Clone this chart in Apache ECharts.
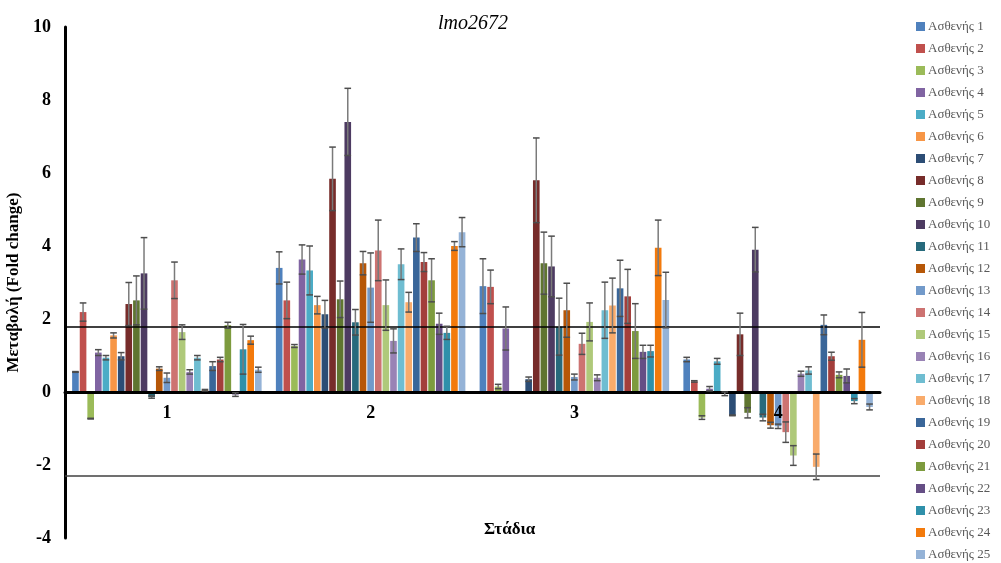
<!DOCTYPE html>
<html>
<head>
<meta charset="utf-8">
<script src="https://cdn.jsdelivr.net/npm/echarts@6/dist/echarts.min.js"></script>
<style>
  html, body { margin: 0; padding: 0; background: #ffffff; }
  #chart { width: 1001px; height: 563px; }
</style>
</head>
<body>
<div id="chart"></div>
<script>
// Stages on the x axis
const stages = ['1', '2', '3', '4'];

// Patient names (one bar series each)
const patients = [
  'Ασθενής 1', 'Ασθενής 2', 'Ασθενής 3', 'Ασθενής 4', 'Ασθενής 5',
  'Ασθενής 6', 'Ασθενής 7', 'Ασθενής 8', 'Ασθενής 9', 'Ασθενής 10',
  'Ασθενής 11', 'Ασθενής 12', 'Ασθενής 13', 'Ασθενής 14', 'Ασθενής 15',
  'Ασθενής 16', 'Ασθενής 17', 'Ασθενής 18', 'Ασθενής 19', 'Ασθενής 20',
  'Ασθενής 21', 'Ασθενής 22', 'Ασθενής 23', 'Ασθενής 24', 'Ασθενής 25'
];

// Fold change per patient, one value per stage (null = not measured)
const foldChange = [
  [0.55, 3.40, 2.90, 0.89],
  [2.19, 2.51, 2.88, 0.29],
  [-0.73, 1.26, 0.15, -0.70],
  [1.08, 3.63, 1.74, 0.09],
  [0.94, 3.33, null, 0.84],
  [1.55, 2.38, null, -0.05],
  [0.98, 2.13, 0.35, -0.64],
  [2.41, 5.84, 5.80, 1.58],
  [2.51, 2.54, 3.53, -0.57],
  [3.25, 7.40, 3.44, 3.90],
  [-0.14, 1.91, 1.79, -0.70],
  [0.64, 3.53, 2.24, -0.91],
  [0.39, 2.86, 0.41, -0.94],
  [3.06, 3.88, 1.32, -1.10],
  [1.64, 2.38, 1.92, -1.74],
  [0.55, 1.40, 0.39, 0.50],
  [0.94, 3.50, 2.24, 0.59],
  [0.05, 2.46, 2.37, -2.05],
  [0.71, 4.23, 2.84, 1.84],
  [0.89, 3.56, 2.62, 0.98],
  [1.83, 3.06, 1.67, 0.47],
  [-0.07, 1.87, 1.10, 0.44],
  [1.17, 1.62, 1.12, -0.25],
  [1.42, 4.00, 3.95, 1.43],
  [0.61, 4.38, 2.52, -0.41]
];

// Error (± standard deviation) per patient and stage
const errorMargin = [
  [0.01, 0.44, 0.75, 0.06],
  [0.25, 0.50, 0.46, 0.02],
  [0.01, 0.04, 0.06, 0.05],
  [0.08, 0.40, 0.59, 0.06],
  [0.06, 0.67, null, 0.08],
  [0.07, 0.24, null, 0.05],
  [0.10, 0.38, 0.06, 0.01],
  [0.59, 0.87, 1.16, 0.58],
  [0.67, 0.50, 0.85, 0.14],
  [0.98, 0.92, 0.83, 0.61],
  [0.03, 0.35, 0.78, 0.09],
  [0.05, 0.32, 0.74, 0.08],
  [0.13, 0.95, 0.08, 0.06],
  [0.50, 0.83, 0.29, 0.28],
  [0.20, 0.69, 0.52, 0.27],
  [0.06, 0.33, 0.08, 0.07],
  [0.06, 0.42, 0.77, 0.10],
  [0.02, 0.27, 0.75, 0.35],
  [0.12, 0.38, 0.77, 0.27],
  [0.06, 0.26, 0.74, 0.11],
  [0.08, 0.59, 0.75, 0.08],
  [0.05, 0.29, 0.18, 0.19],
  [0.68, 0.18, 0.16, 0.07],
  [0.11, 0.12, 0.76, 0.75],
  [0.07, 0.40, 0.76, 0.08]
];

// Threshold lines (up / down regulation cut-offs)
const thresholds = [1.78, -2.3];

// Y axis range
const yMin = -4, yMax = 10, yStep = 2;

const palette = [
  '#4F81BD', '#C0504D', '#9BBB59', '#8064A2', '#4BACC6',
  '#F79646', '#2C4D75', '#772C2A', '#5F7530', '#4D3B62',
  '#276A7C', '#B65708', '#729ACA', '#CD7371', '#AFC97A',
  '#9983B5', '#6FBDD1', '#F9AB6B', '#3A6699', '#A33E3B',
  '#7D9B3E', '#654E85', '#2F90AA', '#F37A0C', '#95B3D7'
];

const CAT_GAP = 0.07;  // barCategoryGap as fraction of band
const BAR_GAP = 0.15;  // barGap as fraction of bar width
const serif = 'Liberation Serif, Times New Roman, serif';

const barSeries = patients.map((name, i) => ({
  name: name,
  type: 'bar',
  data: foldChange[i],
  barGap: (BAR_GAP * 100) + '%',
  barCategoryGap: (CAT_GAP * 100) + '%',
  itemStyle: { color: palette[i] },
  emphasis: { disabled: true },
  z: 2
}));

// Reference lines attached to the first series
barSeries[0].markLine = {
  silent: true,
  symbol: 'none',
  label: { show: false },
  data: [
    { yAxis: thresholds[0], lineStyle: { color: '#000000', width: 1.5, type: 'solid' } },
    { yAxis: thresholds[1], lineStyle: { color: '#404040', width: 1.5, type: 'solid' } }
  ]
};

// Flatten error data: [stageIndex, patientIndex, value, error]
const errData = [];
patients.forEach((p, s) => {
  stages.forEach((st, c) => {
    const v = foldChange[s][c];
    const e = errorMargin[s][c];
    if (v !== null && e !== null) errData.push([c, s, v, e]);
  });
});

function renderErrorBar(params, api) {
  const c = api.value(0), s = api.value(1), v = api.value(2), e = api.value(3);
  const band = api.size([1, 0])[0];
  const n = patients.length;
  const bw = band * (1 - CAT_GAP) / (n + (n - 1) * BAR_GAP);
  const total = bw * n + bw * BAR_GAP * (n - 1);
  const cx = api.coord([c, 0])[0] - total / 2 + s * bw * (1 + BAR_GAP) + bw / 2;
  const yTop = api.coord([c, v + e])[1];
  const yBot = api.coord([c, v - e])[1];
  const hw = bw / 2;
  return {
    type: 'group',
    children: [
      { type: 'line', shape: { x1: cx, y1: yTop, x2: cx, y2: yBot },
        style: { stroke: '#7a7a7a', lineWidth: 1.5 } },
      { type: 'line', shape: { x1: cx - hw, y1: yTop, x2: cx + hw, y2: yTop },
        style: { stroke: '#4d4d4d', lineWidth: 1.5 } },
      { type: 'line', shape: { x1: cx - hw, y1: yBot, x2: cx + hw, y2: yBot },
        style: { stroke: '#4d4d4d', lineWidth: 1.5 } }
    ]
  };
}

const chart = echarts.init(document.getElementById('chart'), null, { renderer: 'canvas' });

chart.setOption({
  animation: false,
  backgroundColor: '#ffffff',
  title: {
    text: 'lmo2672',
    left: 468,
    top: 9,
    textAlign: 'center',
    textStyle: { fontFamily: serif, fontStyle: 'italic', fontWeight: 'normal', fontSize: 20, color: '#000000' }
  },
  legend: {
    orient: 'vertical',
    left: 916,
    top: 20,
    padding: 0,
    icon: 'rect',
    itemWidth: 9,
    itemHeight: 9,
    itemGap: 9,
    data: patients,
    textStyle: { fontFamily: serif, fontSize: 13, color: '#595959', lineHeight: 13, padding: [0, 0, 0, -2] },
    selectedMode: false
  },
  grid: { left: 65, right: 121, top: 27, bottom: 25, containLabel: false, outerBoundsMode: 'none' },
  xAxis: {
    type: 'category',
    data: stages,
    position: 'bottom',
    axisLine: { onZero: false, lineStyle: { color: '#000000', width: 3 } },
    axisTick: { show: false },
    axisLabel: { fontFamily: serif, fontWeight: 'bold', fontSize: 18, color: '#000000', margin: 12 },
    splitLine: { show: false },
    z: 3
  },
  yAxis: {
    type: 'value',
    min: yMin,
    max: yMax,
    interval: yStep,
    name: 'Μεταβολή (Fold change)',
    nameLocation: 'middle',
    nameGap: 43,
    nameTextStyle: { fontFamily: serif, fontWeight: 'bold', fontSize: 17, color: '#000000' },
    axisLine: { show: true, lineStyle: { color: '#000000', width: 3 } },
    axisTick: { show: false },
    axisLabel: { fontFamily: serif, fontWeight: 'bold', fontSize: 18, color: '#000000', margin: 14 },
    splitLine: { show: false }
  },
  graphic: [
    {
      type: 'text',
      left: 484,
      top: 521,
      style: {
        text: 'Στάδια',
        font: 'bold 17px ' + serif,
        fill: '#000000',
        textAlign: 'center'
      }
    }
  ],
  series: barSeries.concat([{
    name: 'error',
    type: 'custom',
    renderItem: renderErrorBar,
    data: errData,
    encode: { x: 0, y: [2] },
    silent: true,
    z: 5
  }])
});

// Move the category axis (line and labels) up to the zero level of the value axis
const zeroPx = chart.convertToPixel({ yAxisIndex: 0 }, 0);
const minPx = chart.convertToPixel({ yAxisIndex: 0 }, yMin);
chart.setOption({ xAxis: { offset: -(minPx - zeroPx) } });
</script>
</body>
</html>
